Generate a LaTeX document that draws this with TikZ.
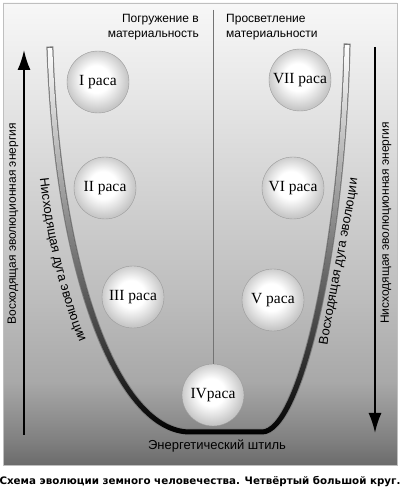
\documentclass[tikz,border=0pt]{standalone}
\usepackage{fontspec}
\setmainfont{Liberation Serif}
\setsansfont{Liberation Sans}
\newfontfamily\capfont{DejaVu Sans}
\usetikzlibrary{arrows.meta,decorations.text,fadings}

\pgfdeclareverticalshading{panelshade}{100bp}{color(0bp)=(black!58); color(25bp)=(black!58); color(27.6bp)=(black!50); color(34bp)=(black!34); color(43bp)=(black!26); color(54bp)=(black!18); color(64.5bp)=(black!10); color(75bp)=(black!3); color(100bp)=(black!3)}
\pgfdeclareradialshading{raceshade}{\pgfpoint{-2bp}{3bp}}{color(0bp)=(white); color(11bp)=(white); color(25bp)=(black!22); color(50bp)=(black!22)}
\tikzfading[name=tubefade, top color=transparent!0, middle color=transparent!35, bottom color=transparent!100]

\begin{document}
\begin{tikzpicture}[x=1pt,y=1pt,
  race/.style={circle,minimum size=62pt,inner sep=0pt,draw=black!40,shading=raceshade,font=\fontsize{15.5}{17}\selectfont},
  toplabel/.style={inner sep=0pt,font=\sffamily\fontsize{12}{15}\selectfont},
  sidelabel/.style={inner sep=0pt,font=\sffamily\fontsize{12}{15}\selectfont},
  energy/.style={line width=2pt,-{Latex[length=20pt,width=13pt]}}]
\useasboundingbox (0,0) rectangle (400,495);
\shade[shading=panelshade,draw=black!25] (3,30) rectangle (397,492);

% U-shaped arc
\draw[black!50,line width=7pt,line cap=rect,
  postaction={draw,black,line width=5pt,line cap=rect},
  postaction={draw,white,line width=5pt,line cap=rect,path fading=tubefade}]
  (50,445) .. controls (58,215) and (120,63) .. (190,63) -- (262,63) .. controls (300,63) and (342,245) .. (347,448);

\path[decorate,decoration={text along path,text align=center,
  text={|\sffamily\fontsize{13}{15}\selectfont|Нисходящая дуга эволюции}}]
  (39,325) .. controls (45,265) and (60,195) .. (83,145);
\path[decorate,decoration={text along path,text align=center,
  text={|\sffamily\fontsize{13}{15}\selectfont|Восходящая дуга эволюции}}]
  (327,147) .. controls (336,205) and (350,265) .. (358,319);

\node[race,shade] (r1) at (98,413) {I раса};
\node[race,shade] (r2) at (105,307) {II раса};
\node[race,shade] (r3) at (133,198) {III раса};
\node[race,shade] (r4) at (213,100) {IVраса};
\node[race,shade] (r5) at (273,195) {V раса};
\node[race,shade] (r6) at (293,307) {VI раса};
\node[race,shade] (r7) at (300,415) {VII раса};

\node[toplabel,anchor=north east,align=right] (sink) at (199,481) {Погружение в\\материальность};
\node[toplabel,anchor=north west,align=left] (rise) at (226,481) {Просветление\\материальности};
\coordinate (split) at (213,485);
\draw[black!55,line width=0.7pt] (split) -- (r4);

\coordinate (lbot) at (24,60);
\coordinate (ltop) at (24,445);
\coordinate (rtop) at (375,448);
\coordinate (rbot) at (375,62);
\draw[energy] (lbot) -- (ltop);
\draw[energy] (rtop) -- (rbot);
\node[sidelabel,rotate=90] (upen) at (13,271) {Восходящая эволюционная энергия};
\node[sidelabel,rotate=90] (downen) at (386,272) {Нисходящая эволюционная энергия};

\node[sidelabel,font=\sffamily\fontsize{13}{15}\selectfont] (calm) at (217,49) {Энергетический штиль};
\node[inner sep=0pt,font=\capfont\bfseries\fontsize{10.3}{12}\selectfont] (caption) at (200,13) {Схема эволюции земного человечества. Четвёртый большой круг.};
\end{tikzpicture}
\end{document}
